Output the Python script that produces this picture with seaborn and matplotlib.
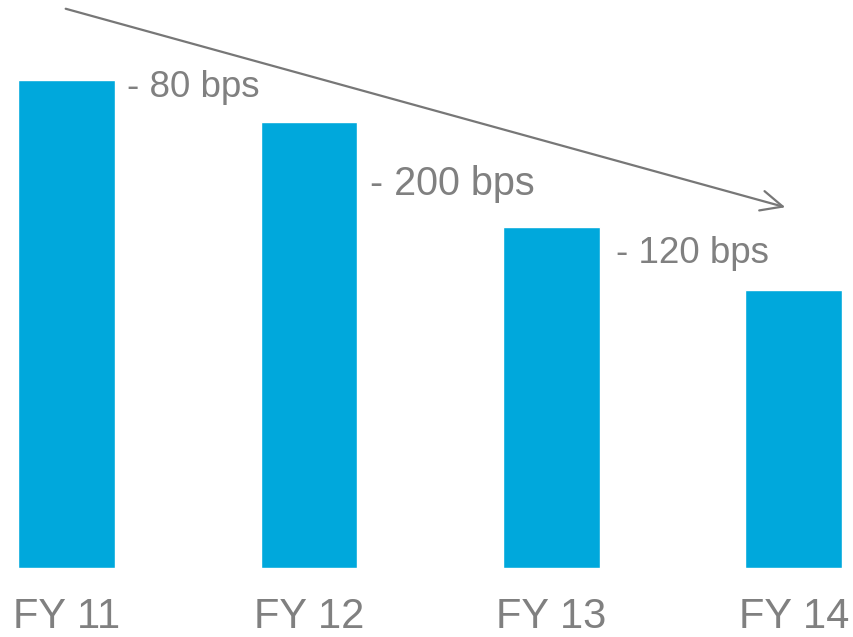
import matplotlib
matplotlib.use("Agg")
import matplotlib.pyplot as plt
import seaborn as sns
import pandas as pd

categories = ["FY 11", "FY 12", "FY 13", "FY 14"]
values = [9.3, 8.5, 6.5, 5.3]
change_labels = ["- 80 bps", "- 200 bps", "- 120 bps"]

sns.set_theme(style="white")
plt.rcParams['font.family'] = ['Liberation Sans', 'DejaVu Sans']

W, H = 854, 637
fig = plt.figure(figsize=(W / 100, H / 100), dpi=100)
ax = fig.add_axes([0, 69 / H, 1, 568 / H])

df = pd.DataFrame({"year": categories, "value": values})
sns.barplot(data=df, x="year", y="value", color="#00A8DC", saturation=1,
            width=0.4, ax=ax)

px_per_unit = 52.5
spacing = 242.5
ax.set_xlim(-66.5 / spacing, 3 + (W - 794) / spacing)
ax.set_ylim(0, 568 / px_per_unit)

def dx(px):
    return (px - 66.5) / spacing

def dy(py):
    return (568 - py) / px_per_unit

gray = "#808080"
label_pos = [(127, 87, 26.5), (370, 184, 28.5), (616, 253, 26.5)]
for (x, y, fs), lab in zip(label_pos, change_labels):
    ax.text(dx(x), dy(y), lab, ha="left", va="center", fontsize=fs, color=gray)

ax.annotate("", xy=(dx(788), dy(208)), xytext=(dx(63), dy(8)),
            arrowprops=dict(arrowstyle="->,head_length=1.3,head_width=0.6",
                            color="#777777", lw=1.6),
            annotation_clip=False)

for s in ax.spines.values():
    s.set_visible(False)
ax.set_yticks([])
ax.set_xlabel("")
ax.set_ylabel("")
ax.tick_params(axis="x", length=0, pad=21, labelsize=30, labelcolor=gray)

fig.savefig("out.png", dpi=100)
